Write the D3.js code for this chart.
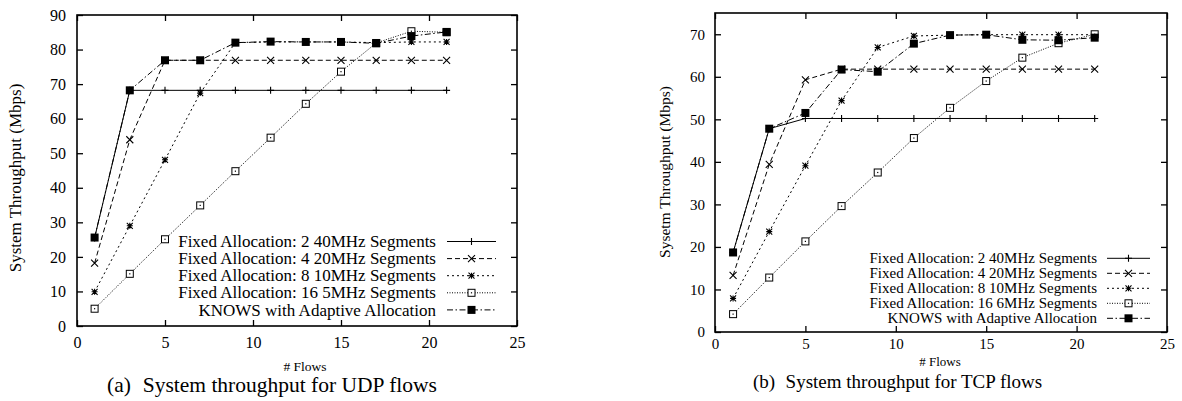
<!DOCTYPE html>
<html>
<head>
<meta charset="utf-8">
<script src="https://cdn.jsdelivr.net/npm/d3@7"></script>
<style>
body { margin: 0; background: #fff; }
text { font-family: "Liberation Serif", "Times New Roman", serif; fill: #000; }
</style>
</head>
<body>
<svg id="chart" width="1182" height="401"></svg>
<script>
// number of flows on the x axis
const flows = [1, 3, 5, 7, 9, 11, 13, 15, 17, 19, 21];

// (a) UDP
const udpNames = [
  'Fixed Allocation: 2 40MHz Segments',
  'Fixed Allocation: 4 20MHz Segments',
  'Fixed Allocation: 8 10MHz Segments',
  'Fixed Allocation: 16 5MHz Segments',
  'KNOWS with Adaptive Allocation'
];
const udpFixed2  = [25.5, 68.2, 68.2, 68.2, 68.2, 68.2, 68.2, 68.2, 68.2, 68.2, 68.2];
const udpFixed4  = [18.2, 53.9, 76.9, 76.9, 76.9, 76.9, 76.9, 76.9, 76.9, 76.9, 76.9];
const udpFixed8  = [9.9, 29.0, 48.1, 67.4, 82.0, 82.2, 82.2, 82.2, 82.0, 82.2, 82.2];
const udpFixed16 = [5.0, 15.1, 25.1, 34.9, 44.8, 54.5, 64.3, 73.6, 81.9, 85.3, 85.0];
const udpKnows   = [25.6, 68.2, 76.9, 76.9, 82.0, 82.3, 82.2, 82.2, 81.8, 83.9, 85.1];

// (b) TCP
const tcpNames = [
  'Fixed Allocation: 2 40MHz Segments',
  'Fixed Allocation: 4 20MHz Segments',
  'Fixed Allocation: 8 10MHz Segments',
  'Fixed Allocation: 16 6MHz Segments',
  'KNOWS with Adaptive Allocation'
];
const tcpFixed2  = [18.7, 47.8, 50.2, 50.2, 50.2, 50.2, 50.2, 50.2, 50.2, 50.2, 50.2];
const tcpFixed4  = [13.3, 39.4, 59.3, 61.8, 61.8, 61.8, 61.8, 61.8, 61.8, 61.8, 61.8];
const tcpFixed8  = [7.9, 23.6, 39.1, 54.4, 66.9, 69.6, 69.8, 69.9, 69.9, 69.9, 69.9];
const tcpFixed16 = [4.2, 12.8, 21.3, 29.6, 37.5, 45.6, 52.7, 59.0, 64.5, 67.9, 70.0];
const tcpKnows   = [18.7, 47.8, 51.5, 61.7, 61.2, 67.8, 69.8, 69.9, 68.7, 68.6, 69.2];

// tick values
const xTicks = [0, 5, 10, 15, 20, 25];
const udpYTicks = [0, 10, 20, 30, 40, 50, 60, 70, 80, 90];
const tcpYTicks = [0, 10, 20, 30, 40, 50, 60, 70];

// line style + point type for each of the five series (gnuplot mono look)
const styles = [
  { dash: null,          mark: 'plus' },
  { dash: '5,3',         mark: 'times' },
  { dash: '2,3',         mark: 'star' },
  { dash: '1,1.5',       mark: 'box' },
  { dash: '6,2.5,1.5,2.5', mark: 'fbox' }
];

const svg = d3.select('#chart');

function markPath(type, r) {
  const p = d3.path();
  if (type == 'plus' || type == 'star') {
    p.moveTo(-r, 0); p.lineTo(r, 0);
    p.moveTo(0, -r); p.lineTo(0, r);
  }
  if (type == 'times' || type == 'star') {
    p.moveTo(-r, -r); p.lineTo(r, r);
    p.moveTo(-r, r); p.lineTo(r, -r);
  }
  return p.toString();
}

function drawMark(g, type, cx, cy) {
  if (type == 'box') {
    g.append('rect').attr('x', cx - 3.5).attr('y', cy - 3.5)
      .attr('width', 7).attr('height', 7)
      .attr('fill', '#fff').attr('stroke', '#000').attr('stroke-width', 1);
    g.append('rect').attr('x', cx - 0.6).attr('y', cy - 0.6)
      .attr('width', 1.2).attr('height', 1.2).attr('fill', '#000');
  } else if (type == 'fbox') {
    g.append('rect').attr('x', cx - 4).attr('y', cy - 4)
      .attr('width', 8).attr('height', 8).attr('fill', '#000');
  } else {
    const r = type == 'star' ? 3 : 3.5;
    g.append('path').attr('d', markPath(type, r))
      .attr('transform', `translate(${cx},${cy})`)
      .attr('fill', 'none').attr('stroke', '#000').attr('stroke-width', 1.1);
  }
}

function drawPanel(cfg) {
  const x = d3.scaleLinear().domain([0, 25]).range([cfg.left, cfg.right]);
  const y = d3.scaleLinear().domain([0, cfg.yMax]).range([cfg.bottom, cfg.top]);
  const g = svg.append('g');

  // ticks (inward, mirrored)
  const ax = g.append('g').attr('transform', `translate(0,${cfg.bottom})`)
    .call(d3.axisBottom(x).tickValues(xTicks).tickSize(-6).tickSizeOuter(0));
  ax.selectAll('text').attr('y', cfg.xLabY).attr('dy', null)
    .style('font-size', cfg.tickFont + 'px').style('font-family', null);
  const ay = g.append('g').attr('transform', `translate(${cfg.left},0)`)
    .call(d3.axisLeft(y).tickValues(cfg.yTicks).tickSize(-6).tickSizeOuter(0));
  ay.selectAll('text').attr('x', -cfg.yLabGap)
    .style('font-size', cfg.tickFont + 'px').style('font-family', null);
  g.append('g').attr('transform', `translate(0,${cfg.top})`)
    .call(d3.axisTop(x).tickValues(xTicks).tickSize(-6).tickSizeOuter(0).tickFormat(''));
  g.append('g').attr('transform', `translate(${cfg.right},0)`)
    .call(d3.axisRight(y).tickValues(cfg.yTicks).tickSize(-6).tickSizeOuter(0).tickFormat(''));
  g.selectAll('.domain').remove();
  g.selectAll('.tick line').attr('stroke', '#000').attr('stroke-width', 1.3);

  // frame
  g.append('rect')
    .attr('x', cfg.left).attr('y', cfg.top)
    .attr('width', cfg.right - cfg.left).attr('height', cfg.bottom - cfg.top)
    .attr('fill', 'none').attr('stroke', '#000').attr('stroke-width', 1.6);

  const line = d3.line().x(d => x(d[0])).y(d => y(d[1]));

  cfg.series.forEach((vals, i) => {
    const pts = flows.map((f, j) => [f, vals[j]]);
    const st = styles[i];
    g.append('path').datum(pts).attr('d', line)
      .attr('fill', 'none').attr('stroke', '#000').attr('stroke-width', 1)
      .attr('stroke-dasharray', st.dash);
    const mg = g.append('g');
    pts.forEach(p => drawMark(mg, st.mark, x(p[0]), y(p[1])));
  });

  // legend
  cfg.names.forEach((name, i) => {
    const ry = cfg.legTop + i * cfg.legStep;
    const st = styles[i];
    g.append('text').attr('x', cfg.legTextEnd).attr('y', ry).attr('dy', '0.33em')
      .attr('text-anchor', 'end').style('font-size', cfg.legFont + 'px').text(name);
    g.append('line').attr('x1', cfg.legLine[0]).attr('x2', cfg.legLine[1])
      .attr('y1', ry).attr('y2', ry)
      .attr('stroke', '#000').attr('stroke-width', 1).attr('stroke-dasharray', st.dash);
    drawMark(g, st.mark, (cfg.legLine[0] + cfg.legLine[1]) / 2, ry);
  });

  // axis titles
  g.append('text')
    .attr('transform', `translate(${cfg.yTitleX},${cfg.yTitleY}) rotate(-90)`)
    .attr('text-anchor', 'middle').attr('dy', '0.33em')
    .style('font-size', cfg.yTitleFont + 'px').text(cfg.yTitle);
  g.append('text').attr('x', cfg.xTitleX).attr('y', cfg.xTitleY)
    .attr('text-anchor', 'middle').style('font-size', cfg.xTitleFont + 'px').text('# Flows');

  // caption
  const cap = g.append('text').attr('x', cfg.capX).attr('y', cfg.capY)
    .style('font-size', cfg.capFont + 'px');
  cap.append('tspan').text(cfg.capTag);
  cap.append('tspan').attr('dx', cfg.capFont * 0.3).text(' ' + cfg.capText);
}

drawPanel({
  left: 77, right: 517, top: 15, bottom: 326, yMax: 90, yTicks: udpYTicks,
  tickFont: 16, xLabY: 22, yLabGap: 11,
  series: [udpFixed2, udpFixed4, udpFixed8, udpFixed16, udpKnows], names: udpNames,
  legTop: 241.5, legStep: 17.1, legFont: 17, legTextEnd: 436, legLine: [447, 496],
  yTitle: 'System Throughput (Mbps)', yTitleX: 15, yTitleY: 178, yTitleFont: 17,
  xTitleX: 305, xTitleY: 371, xTitleFont: 13.5,
  capX: 107, capY: 392, capFont: 21.5, capTag: '(a)', capText: 'System throughput for UDP flows'
});

drawPanel({
  left: 715, right: 1167, top: 13, bottom: 332, yMax: 75, yTicks: tcpYTicks,
  tickFont: 15, xLabY: 17, yLabGap: 10,
  series: [tcpFixed2, tcpFixed4, tcpFixed8, tcpFixed16, tcpKnows], names: tcpNames,
  legTop: 258.3, legStep: 15, legFont: 15, legTextEnd: 1097, legLine: [1107, 1150],
  yTitle: 'Sysetm Throughput (Mbps)', yTitleX: 665, yTitleY: 172, yTitleFont: 15.5,
  xTitleX: 940, xTitleY: 366, xTitleFont: 13,
  capX: 753, capY: 388, capFont: 19, capTag: '(b)', capText: 'System throughput for TCP flows'
});
</script>
</body>
</html>
